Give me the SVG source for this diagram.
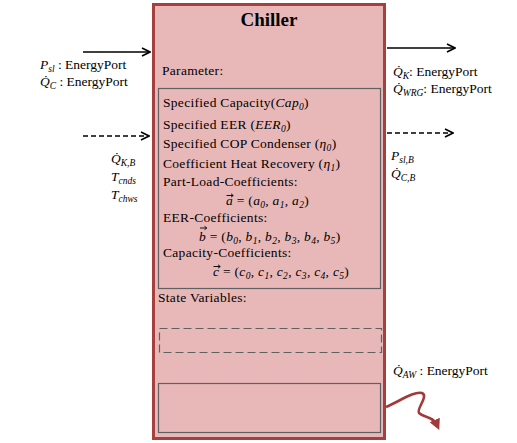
<svg xmlns="http://www.w3.org/2000/svg" width="517" height="443" viewBox="0 0 517 443">
<defs>
<style>
.lbl{font-size:13.5px}
.it{font-style:italic}
.sub{font-size:9.5px;font-style:italic}
.p{font-size:13.5px;letter-spacing:0.3px}
.box{fill:none;stroke:#606060;stroke-width:1.2}
.arr{fill:none;stroke:#000;stroke-width:1.6}
.dash{stroke-dasharray:5,3}
.va{fill:none;stroke:#000;stroke-width:0.9}
</style>
<marker id="ah" viewBox="0 0 10 10" refX="9" refY="5" markerWidth="10" markerHeight="10" markerUnits="userSpaceOnUse" orient="auto">
<path d="M1,1 L9,5 L1,9" fill="none" stroke="#000" stroke-width="1.6"/>
</marker>
<marker id="ahr" viewBox="0 0 10 10" refX="5" refY="5" markerWidth="11" markerHeight="11" markerUnits="userSpaceOnUse" orient="auto">
<path d="M0,0 L10,5 L0,10 Z" fill="#a33a3a"/>
</marker>
</defs>
<rect width="517" height="443" fill="#fff"/>
<g id="chiller">
<rect x="153.5" y="4.5" width="231" height="434" fill="#e8b8b8" stroke="#a5403f" stroke-width="3"/>
<text font-family="Liberation Serif" x="269" y="26" text-anchor="middle" font-size="19" font-weight="bold">Chiller</text>
<text font-family="Liberation Serif" x="162" y="75" class="p">Parameter:</text>
<rect class="box" x="158.5" y="88.5" width="222" height="200"/>
<text font-family="Liberation Serif" x="163" y="107" class="p">Specified Capacity(<tspan class="it">Cap</tspan><tspan class="sub" dy="3">0</tspan><tspan dy="-3">)</tspan></text>
<text font-family="Liberation Serif" x="163" y="129" class="p">Specified EER (<tspan class="it">EER</tspan><tspan class="sub" dy="3">0</tspan><tspan dy="-3">)</tspan></text>
<text font-family="Liberation Serif" x="163" y="148" class="p">Specified COP Condenser  (<tspan class="it">η</tspan><tspan class="sub" dy="3">0</tspan><tspan dy="-3">)</tspan></text>
<text font-family="Liberation Serif" x="163" y="168" class="p">Coefficient Heat Recovery (<tspan class="it">η</tspan><tspan class="sub" dy="3">1</tspan><tspan dy="-3">)</tspan></text>
<text font-family="Liberation Serif" x="163" y="186" class="p">Part-Load-Coefficients:</text>
<text font-family="Liberation Serif" x="226" y="205" class="p"><tspan class="it">a</tspan> = (<tspan class="it">a</tspan><tspan class="sub" dy="3">0</tspan><tspan dy="-3">, </tspan><tspan class="it">a</tspan><tspan class="sub" dy="3">1</tspan><tspan dy="-3">, </tspan><tspan class="it">a</tspan><tspan class="sub" dy="3">2</tspan><tspan dy="-3">)</tspan></text>
<path class="va" d="M226.5,195.5 H233 M231,193.8 L233.3,195.5 L231,197.2"/>
<text font-family="Liberation Serif" x="163" y="222" class="p">EER-Coefficients:</text>
<text font-family="Liberation Serif" x="199" y="241" class="p"><tspan class="it">b</tspan> = (<tspan class="it">b</tspan><tspan class="sub" dy="3">0</tspan><tspan dy="-3">, </tspan><tspan class="it">b</tspan><tspan class="sub" dy="3">1</tspan><tspan dy="-3">, </tspan><tspan class="it">b</tspan><tspan class="sub" dy="3">2</tspan><tspan dy="-3">, </tspan><tspan class="it">b</tspan><tspan class="sub" dy="3">3</tspan><tspan dy="-3">, </tspan><tspan class="it">b</tspan><tspan class="sub" dy="3">4</tspan><tspan dy="-3">, </tspan><tspan class="it">b</tspan><tspan class="sub" dy="3">5</tspan><tspan dy="-3">)</tspan></text>
<path class="va" d="M200,228 H206.5 M204.5,226.3 L206.8,228 L204.5,229.7"/>
<text font-family="Liberation Serif" x="163" y="257" class="p">Capacity-Coefficients:</text>
<text font-family="Liberation Serif" x="213" y="276" class="p"><tspan class="it">c</tspan> = (<tspan class="it">c</tspan><tspan class="sub" dy="3">0</tspan><tspan dy="-3">, </tspan><tspan class="it">c</tspan><tspan class="sub" dy="3">1</tspan><tspan dy="-3">, </tspan><tspan class="it">c</tspan><tspan class="sub" dy="3">2</tspan><tspan dy="-3">, </tspan><tspan class="it">c</tspan><tspan class="sub" dy="3">3</tspan><tspan dy="-3">, </tspan><tspan class="it">c</tspan><tspan class="sub" dy="3">4</tspan><tspan dy="-3">, </tspan><tspan class="it">c</tspan><tspan class="sub" dy="3">5</tspan><tspan dy="-3">)</tspan></text>
<path class="va" d="M213.5,266.5 H220 M218,264.8 L220.3,266.5 L218,268.2"/>
<text font-family="Liberation Serif" x="158" y="302" class="p">State Variables:</text>
<rect class="box" x="159.5" y="328.5" width="222" height="24" stroke-dasharray="8,4"/>
<rect class="box" x="158.5" y="383.5" width="222" height="49"/>
</g>
<g id="connectors">
<line class="arr" x1="83" y1="52" x2="150" y2="52" marker-end="url(#ah)"/>
<line class="arr dash" x1="83" y1="136" x2="149" y2="136" marker-end="url(#ah)"/>
<line class="arr" x1="387" y1="48" x2="455" y2="48" marker-end="url(#ah)"/>
<line class="arr dash" x1="387" y1="133" x2="453" y2="133" marker-end="url(#ah)"/>
<path d="M386,407 C400,401 414,391 422,393 C429,396 416,409 419,413 C424,418 433,416 437,425" fill="none" stroke="#a33a3a" stroke-width="2.6" marker-end="url(#ahr)"/>
</g>
<g id="labels">
<text font-family="Liberation Serif" x="40" y="69" class="lbl"><tspan class="it">P</tspan><tspan class="sub" dy="3">sl</tspan><tspan dy="-3"> : EnergyPort</tspan></text>
<text font-family="Liberation Serif" x="40" y="86" class="lbl"><tspan class="it">Q̇</tspan><tspan class="sub" dy="3">C</tspan><tspan dy="-3"> : EnergyPort</tspan></text>
<text font-family="Liberation Serif" x="111" y="163" class="lbl"><tspan class="it">Q̇</tspan><tspan class="sub" dy="3">K,B</tspan></text>
<text font-family="Liberation Serif" x="111" y="181" class="lbl"><tspan class="it">T</tspan><tspan class="sub" dy="3">cnds</tspan></text>
<text font-family="Liberation Serif" x="111" y="199" class="lbl"><tspan class="it">T</tspan><tspan class="sub" dy="3">chws</tspan></text>
<text font-family="Liberation Serif" x="393" y="76" class="lbl"><tspan class="it">Q̇</tspan><tspan class="sub" dy="3">K</tspan><tspan dy="-3">: EnergyPort</tspan></text>
<text font-family="Liberation Serif" x="393" y="93" class="lbl"><tspan class="it">Q̇</tspan><tspan class="sub" dy="3">WRG</tspan><tspan dy="-3">: EnergyPort</tspan></text>
<text font-family="Liberation Serif" x="391" y="160" class="lbl"><tspan class="it">P</tspan><tspan class="sub" dy="3">sl,B</tspan></text>
<text font-family="Liberation Serif" x="391" y="178" class="lbl"><tspan class="it">Q̇</tspan><tspan class="sub" dy="3">C,B</tspan></text>
<text font-family="Liberation Serif" x="393" y="375" class="lbl"><tspan class="it">Q̇</tspan><tspan class="sub" dy="3">AW</tspan><tspan dy="-3"> : EnergyPort</tspan></text>
</g>
</svg>
